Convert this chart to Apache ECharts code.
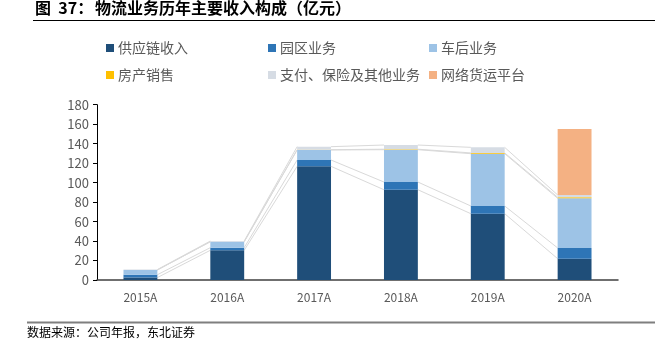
<!DOCTYPE html>
<html>
<head>
<meta charset="utf-8">
<script src="https://cdn.jsdelivr.net/npm/echarts@6/dist/echarts.min.js"></script>
<style>
  html, body { margin: 0; padding: 0; background: #fff; }
  #chart { width: 655px; height: 347px; }
</style>
</head>
<body>
<div id="chart"></div>
<script>
// Logistics segment revenue by year (100 million yuan)
const years = ['2015A', '2016A', '2017A', '2018A', '2019A', '2020A'];
const supplyChain = [2.5, 30.5, 116.7, 92.7, 68.1, 21.9];
const parkBiz     = [2.9, 2.7, 6.5, 7.9, 7.9, 11.0];
const afterSales  = [4.9, 6.1, 10.3, 33.2, 53.7, 51.0];
const housing     = [0, 0, 0.3, 0.5, 0.8, 1.1];
const otherBiz    = [0.4, 0.7, 3.1, 4.3, 5.7, 2.3];
const freightNet  = [0, 0, 0, 0, 0, 67.7];
const yTicks = [0, 20, 40, 60, 80, 100, 120, 140, 160, 180];

const names = ['供应链收入', '园区业务', '车后业务', '房产销售', '支付、保险及其他业务', '网络货运平台'];
const colors = ['#1F4E79', '#2E75B6', '#9DC3E6', '#FFC000', '#D6DCE4', '#F4B183'];
const seriesData = [supplyChain, parkBiz, afterSales, housing, otherBiz, freightNet];

const BAR_RATIO = 0.39;

// connector segments between cumulative tops of neighbouring bars
const linkData = [];
for (let lvl = 0; lvl < 5; lvl++) {
  for (let i = 0; i < years.length - 1; i++) {
    let a = 0, b = 0;
    for (let s = 0; s <= lvl; s++) { a += seriesData[s][i]; b += seriesData[s][i + 1]; }
    linkData.push([i, a, b]);
  }
}

const chart = echarts.init(document.getElementById('chart'), null, { renderer: 'canvas' });

const textColor = '#595959';
const legendPos = [[106, 41], [268, 41], [429, 41], [106, 68], [268, 68], [429, 68]];

const series = names.map((n, k) => ({
  name: n,
  type: 'bar',
  stack: 'total',
  barWidth: (BAR_RATIO * 100) + '%',
  itemStyle: { color: colors[k] },
  z: 3,
  data: seriesData[k]
}));

series.push({
  type: 'custom',
  name: 'links',
  silent: true,
  z: 2,
  renderItem: function (params, api) {
    const i = api.value(0);
    const half = api.size([1, 0])[0] * BAR_RATIO / 2;
    const p1 = api.coord([i, api.value(1)]);
    const p2 = api.coord([i + 1, api.value(2)]);
    return {
      type: 'line',
      shape: { x1: p1[0] + half, y1: p1[1], x2: p2[0] - half, y2: p2[1] },
      style: { stroke: '#D9D9D9', lineWidth: 1 }
    };
  },
  data: linkData
});

const option = {
  backgroundColor: '#ffffff',
  animation: false,
  legend: names.map((n, k) => ({
    data: [n],
    left: legendPos[k][0],
    top: legendPos[k][1],
    icon: 'rect',
    itemWidth: 8,
    itemHeight: 8,
    itemGap: 0,
    padding: 0,
    textStyle: { color: textColor, fontSize: 14, fontFamily: 'Noto Sans CJK SC', padding: [0, 0, 0, -1] }
  })),
  grid: { left: 97, right: 37, top: 104.7, bottom: 67, containLabel: false },
  xAxis: {
    type: 'category',
    data: years,
    axisLine: { lineStyle: { color: '#404040', width: 1.5 } },
    axisTick: { show: false },
    axisLabel: { color: textColor, fontSize: 12, fontFamily: 'Noto Sans CJK SC', margin: 11 }
  },
  yAxis: {
    type: 'value',
    min: yTicks[0],
    max: yTicks[yTicks.length - 1],
    interval: 20,
    axisLine: { show: true, lineStyle: { color: '#000000', width: 1 } },
    axisTick: { show: true, length: 4, lineStyle: { color: '#000000' } },
    splitLine: { show: false },
    axisLabel: { color: textColor, fontSize: 13, fontFamily: 'Noto Sans CJK SC', margin: 8 }
  },
  graphic: [
    {
      type: 'text', left: 35, top: 0,
      style: { text: '图  37：', fill: '#000', font: 'bold 16px "Noto Sans CJK SC"' }
    },
    {
      type: 'text', left: 95, top: 0,
      style: { text: '物流业务历年主要收入构成（亿元）', fill: '#000', font: 'bold 16px "Noto Sans CJK SC"' }
    },
    {
      type: 'line', shape: { x1: 33, y1: 20.5, x2: 655, y2: 20.5 },
      style: { stroke: '#000', lineWidth: 1 }
    },
    {
      type: 'line', shape: { x1: 27, y1: 322.5, x2: 655, y2: 322.5 },
      style: { stroke: '#7F7F7F', lineWidth: 2 }
    },
    {
      type: 'text', left: 27, top: 326,
      style: { text: '数据来源：公司年报，东北证券', fill: '#000', font: '12px "Noto Sans CJK SC"' }
    }
  ],
  series: series
};

chart.setOption(option);
</script>
</body>
</html>
